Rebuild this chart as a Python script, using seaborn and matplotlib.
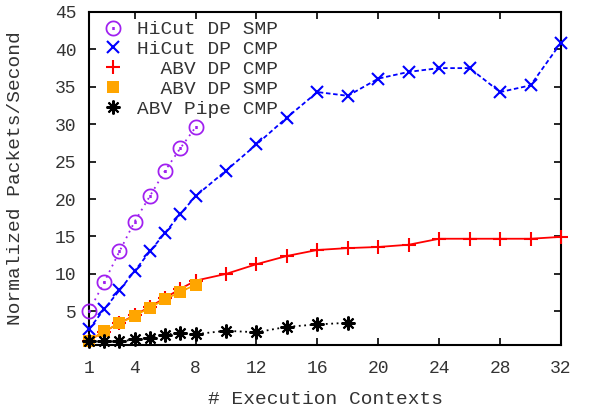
import numpy as np
import pandas as pd
import matplotlib
matplotlib.use("Agg")
import matplotlib.pyplot as plt
import seaborn as sns

# ---- data ----
x_hicut_smp = [1, 2, 3, 4, 5, 6, 7, 8]
y_hicut_smp = [5.0, 8.9, 13.0, 17.0, 20.4, 23.8, 26.8, 29.6]

x_hicut_cmp = [1, 2, 3, 4, 5, 6, 7, 8, 10, 12, 14, 16, 18, 20, 22, 24, 26, 28, 30, 32]
y_hicut_cmp = [2.6, 5.3, 7.8, 10.4, 13.0, 15.5, 18.0, 20.4, 23.8, 27.3, 30.9, 34.3,
               33.8, 36.1, 37.0, 37.5, 37.5, 34.3, 35.2, 40.9]

x_abv_cmp = [1, 2, 3, 4, 5, 6, 7, 8, 10, 12, 14, 16, 18, 20, 22, 24, 26, 28, 30, 32]
y_abv_cmp = [1.1, 2.3, 3.4, 4.5, 5.6, 6.8, 8.0, 9.1, 10.0, 11.3, 12.4, 13.2,
             13.45, 13.6, 13.9, 14.7, 14.7, 14.7, 14.7, 14.95]

x_abv_smp = [1, 2, 3, 4, 5, 6, 7, 8]
y_abv_smp = [1.06, 2.35, 3.4, 4.4, 5.5, 6.6, 7.6, 8.55]

x_abv_pipe = [1, 2, 3, 4, 5, 6, 7, 8, 10, 12, 14, 16, 18]
y_abv_pipe = [1.06, 0.97, 0.97, 1.24, 1.5, 1.9, 2.1, 1.95, 2.4, 2.2, 2.93, 3.25, 3.47]

labels = ["HiCut DP SMP", "HiCut DP CMP", "  ABV DP CMP", "  ABV DP SMP", "ABV Pipe CMP"]
xticks = [1, 4, 8, 12, 16, 20, 24, 28, 32]
yticks = [5, 10, 15, 20, 25, 30, 35, 40, 45]

sns.set_style("ticks")
plt.rcParams["font.family"] = ["Liberation Mono", "DejaVu Sans"]
plt.rcParams["text.color"] = "#333333"
plt.rcParams["axes.labelcolor"] = "#333333"
plt.rcParams["xtick.color"] = "black"
plt.rcParams["ytick.color"] = "black"
plt.rcParams["xtick.labelcolor"] = "#333333"
plt.rcParams["ytick.labelcolor"] = "#333333"

fig = plt.figure(figsize=(5.9, 4.11), dpi=100)
ax = fig.add_axes([89 / 590, 1 - 345 / 411, (561 - 89) / 590, (345 - 12) / 411])

series = [
    (x_hicut_smp, y_hicut_smp, dict(color="#a020f0", linestyle=(0, (1, 2.5)), marker=r"$\odot$", markersize=11.5, markeredgewidth=0)),
    (x_hicut_cmp, y_hicut_cmp, dict(color="#0000ff", linestyle=(0, (2.5, 1.5)), marker="x", markersize=9, markeredgewidth=1.5)),
    (x_abv_cmp, y_abv_cmp, dict(color="#ff0000", linestyle="-", marker="+", markersize=10, markeredgewidth=1.5)),
    (x_abv_smp, y_abv_smp, dict(color="#ffa500", linestyle="-", marker="s", markersize=8.5, markeredgewidth=0)),
    (x_abv_pipe, y_abv_pipe, dict(color="black", linestyle=(0, (1, 2)), marker=(8, 2, 0), markersize=10, markeredgewidth=1.5)),
]

for (xs, ys, kw), lab in zip(series, labels):
    df = pd.DataFrame({"x": xs, "y": ys})
    sns.lineplot(data=df, x="x", y="y", ax=ax, label=lab, linewidth=1.3,
                 markeredgecolor=kw["color"], markerfacecolor=kw["color"],
                 clip_on=False, zorder=3, **kw)

ax.set_xlim(1, 32)
ax.set_ylim(0.5, 45)
ax.set_xticks(xticks)
ax.set_yticks(yticks)
ax.tick_params(direction="in", length=5, width=1.2, top=True, right=True,
               labelsize=13, pad=9)
ax.tick_params(axis="x", pad=11)
for s in ax.spines.values():
    s.set_linewidth(1.5)
    s.set_color("black")

ax.set_xlabel("# Execution Contexts", fontsize=14, labelpad=10)
ax.set_ylabel("Normalized Packets/Second", fontsize=14, labelpad=22)

leg = ax.legend(loc="upper left", frameon=False, fontsize=14, handlelength=1.2,
                handletextpad=0.65, labelspacing=0.12, borderaxespad=0.05,
                bbox_to_anchor=(0.008, 1.0))
for ln in leg.get_lines():
    ln.set_linestyle("None")

fig.savefig("out.png", dpi=100)
